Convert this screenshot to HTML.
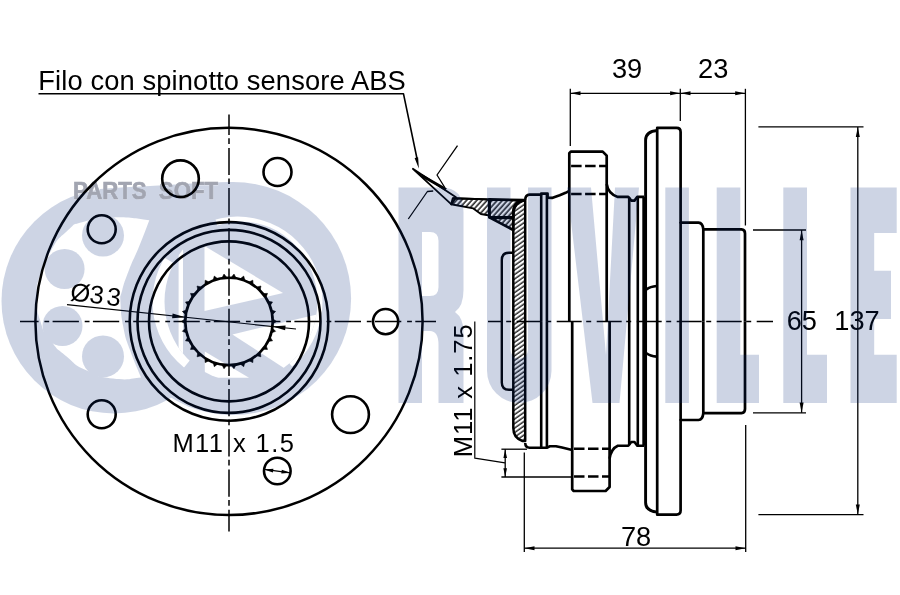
<!DOCTYPE html><html><head><meta charset="utf-8"><title>Wheel hub drawing</title><style>html,body{margin:0;padding:0;background:#fff}svg{display:block}#w{width:900px;height:595px;will-change:transform;overflow:hidden}</style></head><body><div id="w">
<svg width="900" height="595" viewBox="0 0 900 595" >
<rect width="900" height="595" fill="#fff"/>
<defs><pattern id="h" width="3.8" height="3.8" patternUnits="userSpaceOnUse" patternTransform="rotate(-48)"><line x1="0" y1="2" x2="3.8" y2="2" stroke="#000" stroke-width="1.35"/></pattern><pattern id="h2" width="3.7" height="3.7" patternUnits="userSpaceOnUse" patternTransform="rotate(-35)"><line x1="0" y1="2" x2="3.7" y2="2" stroke="#000" stroke-width="1.25"/></pattern></defs>
<text x="73" y="198.8" font-family="Liberation Sans, sans-serif" font-weight="bold" font-size="23.6" fill="#a2a5b1" stroke="#a2a5b1" stroke-width=".7" textLength="145" lengthAdjust="spacingAndGlyphs" xml:space="preserve">PARTS  SOFT</text>
<line x1="20" y1="321.4" x2="436" y2="321.4" stroke="#000" stroke-width="1.5" stroke-dasharray="26.3 5.8 4.8 3.4" stroke-dashoffset="7.7"/>
<line x1="229.0" y1="114.5" x2="229.0" y2="531.5" stroke="#000" stroke-width="1.5" stroke-dasharray="27.2 3.3 5.7 4" stroke-dashoffset="6.8"/>
<circle cx="229.0" cy="321.4" r="193.6" fill="none" stroke="#000" stroke-width="2.5" />
<circle cx="229.0" cy="321.4" r="99.3" fill="none" stroke="#000" stroke-width="2.6" />
<circle cx="229.0" cy="321.4" r="91.5" fill="none" stroke="#000" stroke-width="2.6" />
<circle cx="229.0" cy="321.4" r="80.0" fill="none" stroke="#000" stroke-width="2.6" />
<path d="M272.6,318.8 L276.6,321.4 L272.6,324.0 Z M272.2,327.9 L275.6,331.3 L271.1,333.0 Z M269.9,336.7 L272.5,340.8 L267.8,341.5 Z M265.8,344.9 L267.5,349.4 L262.8,349.2 Z M260.1,352.1 L260.9,356.8 L256.2,355.6 Z M253.1,357.9 L252.8,362.6 L248.5,360.5 Z M245.0,362.1 L243.7,366.7 L240.0,363.7 Z M236.2,364.5 L234.0,368.7 L231.0,365.1 Z M227.0,365.1 L224.0,368.7 L221.8,364.5 Z M218.0,363.7 L214.3,366.7 L213.0,362.1 Z M209.5,360.5 L205.2,362.6 L204.9,357.9 Z M201.8,355.6 L197.1,356.8 L197.9,352.1 Z M195.2,349.2 L190.5,349.4 L192.2,344.9 Z M190.2,341.5 L185.5,340.8 L188.1,336.7 Z M186.9,333.0 L182.4,331.3 L185.8,327.9 Z M185.4,324.0 L181.4,321.4 L185.4,318.8 Z M185.8,314.9 L182.4,311.5 L186.9,309.8 Z M188.1,306.1 L185.5,302.0 L190.2,301.3 Z M192.2,297.9 L190.5,293.4 L195.2,293.6 Z M197.9,290.7 L197.1,286.0 L201.8,287.2 Z M204.9,284.9 L205.2,280.2 L209.5,282.3 Z M213.0,280.7 L214.3,276.1 L218.0,279.1 Z M221.8,278.3 L224.0,274.1 L227.0,277.7 Z M231.0,277.7 L234.0,274.1 L236.2,278.3 Z M240.0,279.1 L243.7,276.1 L245.0,280.7 Z M248.5,282.3 L252.8,280.2 L253.1,284.9 Z M256.2,287.2 L260.9,286.0 L260.1,290.7 Z M262.8,293.6 L267.5,293.4 L265.8,297.9 Z M267.8,301.3 L272.5,302.0 L269.9,306.1 Z M271.1,309.8 L275.6,311.5 L272.2,314.9 Z " fill="#000" stroke="#000" stroke-width=".6"/>
<circle cx="229.0" cy="321.4" r="43.7" fill="none" stroke="#000" stroke-width="2.6" />
<circle cx="180.5" cy="178.7" r="18.3" fill="none" stroke="#000" stroke-width="2.6" />
<circle cx="277.5" cy="172.0" r="14.0" fill="none" stroke="#000" stroke-width="2.6" />
<circle cx="101.7" cy="229.2" r="14.0" fill="none" stroke="#000" stroke-width="2.6" />
<circle cx="385.6" cy="321.6" r="12.6" fill="none" stroke="#000" stroke-width="2.6" />
<circle cx="101.7" cy="414.2" r="14.0" fill="none" stroke="#000" stroke-width="2.6" />
<circle cx="350.5" cy="414.6" r="18.4" fill="none" stroke="#000" stroke-width="2.6" />
<circle cx="277.3" cy="471.0" r="13.3" fill="none" stroke="#000" stroke-width="2.6" />
<line x1="264.5" y1="469.4" x2="290.3" y2="472.8" stroke="#000" stroke-width="1.2" />
<path d="M264.2,469.4 L273.4,468.8 L272.9,472.4 Z" fill="#000"/>
<path d="M290.5,472.8 L281.3,473.4 L281.8,469.8 Z" fill="#000"/>
<line x1="67.0" y1="304.7" x2="296.0" y2="329.0" stroke="#000" stroke-width="1.2" />
<path d="M185.3,317.2 L172.1,318.2 L172.6,313.4 Z" fill="#000"/>
<path d="M272.4,326.5 L285.6,325.5 L285.1,330.3 Z" fill="#000"/>
<g transform="rotate(7.0 70.5 301)">
<g><text x="69.3" y="300.4" font-family="Liberation Sans, sans-serif" font-size="25.5" text-anchor="start" fill="#000" dx="0 -0.4 2.9">Ø33</text></g>
</g>
<g><text x="172.4" y="452.0" font-family="Liberation Sans, sans-serif" font-size="25.5" text-anchor="start" fill="#000" textLength="121.5" lengthAdjust="spacing" >M11 x 1.5</text></g>
<line x1="488" y1="321.4" x2="773" y2="321.4" stroke="#000" stroke-width="1.5" stroke-dasharray="25 4.5 5 5.5" stroke-dashoffset="11.3"/>
<path d="M525.2,199.8 V441 H522.5 Q513.3,438 513.3,428 V214 Q513.3,201.5 524,200.2 H525.2" fill="url(#h2)" stroke="#000" stroke-width="2.5" stroke-linejoin="round" />
<path d="M513.2,252.8 H509 Q501.8,252.8 501.8,260 V382.6 Q501.8,389.8 509,389.8 H513.2" fill="none" stroke="#000" stroke-width="2.4" stroke-linejoin="round" />
<path d="M489.4,199.4 L524,200.2 Q513.3,201.5 513.3,214 V217.4 H489.4Z" fill="url(#h)" stroke="#000" stroke-width="2.9" stroke-linejoin="round" />
<path d="M490.3,217.9 L513.2,230 V217.9Z" fill="url(#h)" stroke="#000" stroke-width="2.6" stroke-linejoin="round" />
<path d="M451.1,204.2 L452.8,198.2 L489.4,199.4 V215.5 L480.9,214 L473.3,208.4Z" fill="url(#h)" stroke="#000" stroke-width="1.9" stroke-linejoin="round" />
<line x1="452.8" y1="198.3" x2="489.4" y2="199.4" stroke="#000" stroke-width="2.0" />
<path d="M412.9,168.8 L456,197.2 L451.4,204.4Z" fill="none" stroke="#000" stroke-width="1.8" stroke-linejoin="round" />
<line x1="421.5" y1="175.5" x2="446.0" y2="189.5" stroke="#000" stroke-width="3.0" />
<path d="M457.5,145.6 L437,175 L444.8,187.5" fill="none" stroke="#000" stroke-width="1.3" stroke-linejoin="round" />
<path d="M408.3,219 L427.4,191.5 L433.2,191" fill="none" stroke="#000" stroke-width="1.3" stroke-linejoin="round" />
<path d="M38.5,93.8 H403.5 L417.3,160" fill="none" stroke="#000" stroke-width="1.6" stroke-linejoin="round" />
<path d="M418.9,168.8 L414.6,158.0 L418.1,157.2 Z" fill="#000"/>
<path d="M525.2,200.0 Q525.4,194.6 529.6,194.6 H541.2 V193.6 H547.6 V197.6 L552,197.9 L559.7,195.2 L565.6,192.8 L569.3,190.9 " fill="none" stroke="#000" stroke-width="2.6" stroke-linejoin="round" />
<path d="M569.3,321.3 V153.2 L570.8,151.6 H602.7 L606.7,155.6 V321.3" fill="none" stroke="#000" stroke-width="2.7" stroke-linejoin="round" />
<line x1="569.3" y1="166.1" x2="606.7" y2="166.1" stroke="#000" stroke-width="2.5" stroke-dasharray="10.5 3.5" stroke-dashoffset="12.2"/>
<line x1="569.3" y1="193.9" x2="606.7" y2="193.9" stroke="#000" stroke-width="2.5" stroke-dasharray="10.5 3.5" stroke-dashoffset="12.2"/>
<path d="M606.7,184.0 Q608.2,194.0 617.8,196.9 H628.3 L631.3,200.6 H634.5 L637.3,196.9 H644" fill="none" stroke="#000" stroke-width="2.6" stroke-linejoin="round" />
<line x1="541.2" y1="194.6" x2="541.2" y2="321.3" stroke="#000" stroke-width="2.6" />
<line x1="546.9" y1="194.0" x2="546.9" y2="321.3" stroke="#000" stroke-width="2.6" />
<line x1="629.2" y1="197.5" x2="629.2" y2="321.3" stroke="#000" stroke-width="2.6" />
<line x1="637.8" y1="197.5" x2="637.8" y2="321.3" stroke="#000" stroke-width="2.6" />
<path d="M645.6,321.3 V140.0 Q645.8,131.5 657.2,130.5" fill="none" stroke="#000" stroke-width="2.9" stroke-linejoin="round" />
<path d="M657.2,321.3 V127.9 H676.5 Q680.6,127.9 680.6,132.0 V222.6 H698.5 Q702.8,222.8 703.3,229.4 H741.5 Q745,229.5 745,233.5 V321.3" fill="none" stroke="#000" stroke-width="2.7" stroke-linejoin="round" />
<line x1="680.6" y1="222.0" x2="680.6" y2="321.3" stroke="#000" stroke-width="2.7" />
<line x1="703.3" y1="229.4" x2="703.3" y2="321.3" stroke="#000" stroke-width="2.7" />
<path d="M646.5,289.4 Q650,286.6 656.8,286.0" fill="none" stroke="#000" stroke-width="2.6" stroke-linejoin="round" />
<path d="M525.2,443 Q525.4,447.7 529.6,447.7 H546.5 L550,446.3 L556,446.3 L562,447.6 L572.2,450 " fill="none" stroke="#000" stroke-width="2.6" stroke-linejoin="round" />
<path d="M572.2,321.3 V489.4 L573.7,491.0 H605.6 L609.6,487.0 V321.3" fill="none" stroke="#000" stroke-width="2.7" stroke-linejoin="round" />
<line x1="572.2" y1="476.5" x2="609.6" y2="476.5" stroke="#000" stroke-width="2.5" stroke-dasharray="10.5 3.5" stroke-dashoffset="12.2"/>
<line x1="572.2" y1="448.7" x2="609.6" y2="448.7" stroke="#000" stroke-width="2.5" stroke-dasharray="10.5 3.5" stroke-dashoffset="12.2"/>
<path d="M609.6,458.6 Q611.1,448.6 617.8,445.7 H628.3 L631.3,442.0 H634.5 L637.3,445.7 H644" fill="none" stroke="#000" stroke-width="2.6" stroke-linejoin="round" />
<line x1="541.2" y1="448.0" x2="541.2" y2="321.3" stroke="#000" stroke-width="2.6" />
<line x1="546.9" y1="448.6" x2="546.9" y2="321.3" stroke="#000" stroke-width="2.6" />
<line x1="629.2" y1="445.1" x2="629.2" y2="321.3" stroke="#000" stroke-width="2.6" />
<line x1="637.8" y1="445.1" x2="637.8" y2="321.3" stroke="#000" stroke-width="2.6" />
<path d="M645.6,321.3 V502.6 Q645.8,511.1 657.2,512.1" fill="none" stroke="#000" stroke-width="2.9" stroke-linejoin="round" />
<path d="M657.2,321.3 V514.7 H676.5 Q680.6,514.7 680.6,510.6 V420.0 H698.5 Q702.8,419.8 703.3,413.2 H741.5 Q745,413.1 745,409.1 V321.3" fill="none" stroke="#000" stroke-width="2.7" stroke-linejoin="round" />
<line x1="680.6" y1="420.6" x2="680.6" y2="321.3" stroke="#000" stroke-width="2.7" />
<line x1="703.3" y1="413.2" x2="703.3" y2="321.3" stroke="#000" stroke-width="2.7" />
<path d="M646.5,353.2 Q650,356.0 656.8,356.6" fill="none" stroke="#000" stroke-width="2.6" stroke-linejoin="round" />
<line x1="644.6" y1="197.0" x2="644.6" y2="445.6" stroke="#000" stroke-width="4.6" />
<line x1="570.3" y1="88.8" x2="570.3" y2="146.0" stroke="#000" stroke-width="1.3" />
<line x1="680.3" y1="88.8" x2="680.3" y2="121.0" stroke="#000" stroke-width="1.3" />
<line x1="745.4" y1="88.8" x2="745.4" y2="225.5" stroke="#000" stroke-width="1.3" />
<line x1="570.3" y1="93.3" x2="745.4" y2="93.3" stroke="#000" stroke-width="1.3" />
<path d="M570.5,93.3 L580.5,91.3 L580.5,95.2 Z" fill="#000"/>
<path d="M680.1,93.3 L670.1,95.2 L670.1,91.3 Z" fill="#000"/>
<path d="M680.5,93.3 L690.5,91.3 L690.5,95.2 Z" fill="#000"/>
<path d="M745.2,93.3 L735.2,95.2 L735.2,91.3 Z" fill="#000"/>
<g><text x="627.0" y="77.6" font-family="Liberation Sans, sans-serif" font-size="27.2" text-anchor="middle" fill="#000" >39</text></g>
<g><text x="713.2" y="77.6" font-family="Liberation Sans, sans-serif" font-size="27.2" text-anchor="middle" fill="#000" >23</text></g>
<line x1="758.4" y1="126.9" x2="863.5" y2="126.9" stroke="#000" stroke-width="1.3" />
<line x1="758.4" y1="514.6" x2="863.5" y2="514.6" stroke="#000" stroke-width="1.3" />
<line x1="857.8" y1="126.9" x2="857.8" y2="514.6" stroke="#000" stroke-width="1.3" />
<path d="M857.8,127.1 L859.8,137.1 L855.8,137.1 Z" fill="#000"/>
<path d="M857.8,514.4 L855.8,504.4 L859.8,504.4 Z" fill="#000"/>
<line x1="753.0" y1="230.0" x2="806.0" y2="230.0" stroke="#000" stroke-width="1.3" />
<line x1="753.0" y1="412.8" x2="806.0" y2="412.8" stroke="#000" stroke-width="1.3" />
<line x1="801.6" y1="230.0" x2="801.6" y2="412.8" stroke="#000" stroke-width="1.3" />
<path d="M801.6,230.2 L803.6,240.2 L799.6,240.2 Z" fill="#000"/>
<path d="M801.6,412.6 L799.6,402.6 L803.6,402.6 Z" fill="#000"/>
<g><text x="801.8" y="330.0" font-family="Liberation Sans, sans-serif" font-size="27.2" text-anchor="middle" fill="#000" >65</text></g>
<g><text x="857.0" y="330.0" font-family="Liberation Sans, sans-serif" font-size="27.2" text-anchor="middle" fill="#000" >137</text></g>
<line x1="524.3" y1="452.5" x2="524.3" y2="552.0" stroke="#000" stroke-width="1.3" />
<line x1="745.7" y1="425.0" x2="745.7" y2="552.0" stroke="#000" stroke-width="1.3" />
<line x1="524.3" y1="548.2" x2="745.7" y2="548.2" stroke="#000" stroke-width="1.3" />
<path d="M524.5,548.2 L534.5,546.2 L534.5,550.2 Z" fill="#000"/>
<path d="M745.5,548.2 L735.5,550.2 L735.5,546.2 Z" fill="#000"/>
<g><text x="636.0" y="545.7" font-family="Liberation Sans, sans-serif" font-size="27.2" text-anchor="middle" fill="#000" >78</text></g>
<line x1="501.4" y1="449.2" x2="527.0" y2="449.2" stroke="#000" stroke-width="1.3" />
<line x1="501.4" y1="477.0" x2="572.0" y2="477.0" stroke="#000" stroke-width="1.3" />
<line x1="505.2" y1="449.2" x2="505.2" y2="477.0" stroke="#000" stroke-width="1.3" />
<path d="M505.2,449.4 L507.0,457.9 L503.4,457.9 Z" fill="#000"/>
<path d="M505.2,476.8 L503.4,468.3 L507.0,468.3 Z" fill="#000"/>
<path d="M474.8,321.5 V458.2 L505,462.8" fill="none" stroke="#000" stroke-width="1.2" stroke-linejoin="round" />
<g transform="rotate(-90 472 455.5)">
<g><text x="470.2" y="455.5" font-family="Liberation Sans, sans-serif" font-size="25.5" text-anchor="start" fill="#000" textLength="133.0" lengthAdjust="spacing" >M11 x 1.75</text></g>
</g>
<g><text x="38.3" y="90.0" font-family="Liberation Sans, sans-serif" font-size="27.3" text-anchor="start" fill="#000" textLength="367.5" lengthAdjust="spacing" >Filo con spinotto sensore ABS</text></g>
<mask id="wm" maskUnits="userSpaceOnUse" x="0" y="0" width="900" height="595"><rect width="900" height="595" fill="#000"/>
<g fill="#fff">
<ellipse cx="232.9" cy="298.5" rx="118.2" ry="116.5"/>
<circle cx="114" cy="301" r="112.5"/>
<path d="M100,300 L100,188.9 L125,187.3 L150,186.0 L200,182.9 L233,182 L233,300Z"/>
</g>
<path d="M149.3,220.2 C137.2,219.3 134.5,217.0 113.0,217.4 C91.5,217.8 100.2,216.7 84.7,221.4 C69.2,226.1 78.0,221.4 66.6,231.5 C55.2,241.6 59.3,237.2 50.4,251.7 C41.5,266.2 44.5,259.9 40.0,275.0 C35.5,290.1 37.0,282.0 37.0,297.0 C37.0,312.0 35.5,305.7 40.0,320.0 C44.5,334.3 41.5,327.9 50.4,340.0 C59.3,352.1 54.5,346.2 66.6,356.4 C78.7,366.6 71.3,363.1 86.8,370.5 C102.3,377.9 94.9,376.2 113.0,378.6 C131.1,381.0 131.7,377.9 141.0,377.6 L141.0,377.6 C138.1,370.2 134.7,363.2 130.0,350.0 C125.3,336.8 126.0,340.5 123.5,328.0 C121.0,315.5 120.9,312.9 120.5,303.0 C120.1,293.1 119.7,299.9 122.0,291.0 C124.3,282.1 124.4,281.9 129.1,269.8 C133.8,257.7 134.1,258.8 139.5,245.6 C144.9,232.4 146.7,227.0 149.3,220.2Z" fill="#000"/>
<circle cx="103.0" cy="235.5" r="21.0" fill="#fff"/>
<circle cx="64.6" cy="269.0" r="20.0" fill="#fff"/>
<circle cx="62.5" cy="326.0" r="20.0" fill="#fff"/>
<circle cx="103.0" cy="356.4" r="21.0" fill="#fff"/>
<path fill-rule="evenodd" fill="#000" d="M152.5,301.5 a85,85 0 1 0 170,0 a85,85 0 1 0 -170,0Z M164.5,301.5 a76.5,80 0 1 0 153,0 a76.5,80 0 1 0 -153,0Z"/>
<path d="M168.9,260.3 A80.0,80.0 0 0 1 216.8,224.2 M288.9,362.8 A80.0,80.0 0 0 1 187.2,363.7" fill="none" stroke="#fff" stroke-width="15"/>
<clipPath id="cb"><ellipse cx="241" cy="301.5" rx="76.5" ry="80"/></clipPath>
<g clip-path="url(#cb)" fill="#000">
<path d="M204.5,246 L283,293 L204.5,311Z"/>
<path d="M204.8,351.5 L249,377.7 L204.8,377.7Z"/>
<path d="M232.4,334.4 L330,311.3 L330,398Z"/>
<rect x="178.6" y="244" width="4.4" height="140"/>
</g>
<path fill-rule="evenodd" d="M398.5,187.6 H441 Q463.5,187.6 463.5,212 V290 Q463.5,306 455,312 Q463.5,318 463.5,332 V403.0 H438.5 V345 Q438.5,331 430,331 H422 V403.0 H398.5Z M422,232 H430 Q438.5,232 438.5,241 V287 Q438.5,296 430,296 H422Z M487,187.6 H510.5 V350 A8.75,8.75 0 0 0 528,350 V187.6 H551.5 V370.8 A32.25,32.25 0 0 1 487,370.8Z M567,187.6 H591 L606,355 L615,187.6 H639 L619.5,403.0 H592.5Z M665.3,187.6 H688.9 V403.0 H665.3Z M716.7,187.6 H740.3 V354.7 H759 V403.0 H716.7Z M783.3,187.6 H807 V354.7 H827 V403.0 H783.3Z M850.5,187.6 H896.7 V233 H874.2 V270.7 H891 V319 H874.2 V354.7 H896.7 V403.0 H850.5Z" fill="#fff"/>
<text x="73" y="198.8" font-family="Liberation Sans, sans-serif" font-weight="bold" font-size="23.6" fill="#000" stroke="#000" stroke-width=".9" textLength="145" lengthAdjust="spacingAndGlyphs" xml:space="preserve">PARTS  SOFT</text>
</mask>
<rect width="900" height="595" fill="rgb(5,40,120)" fill-opacity=".2" mask="url(#wm)"/>
</svg></div></body></html>
